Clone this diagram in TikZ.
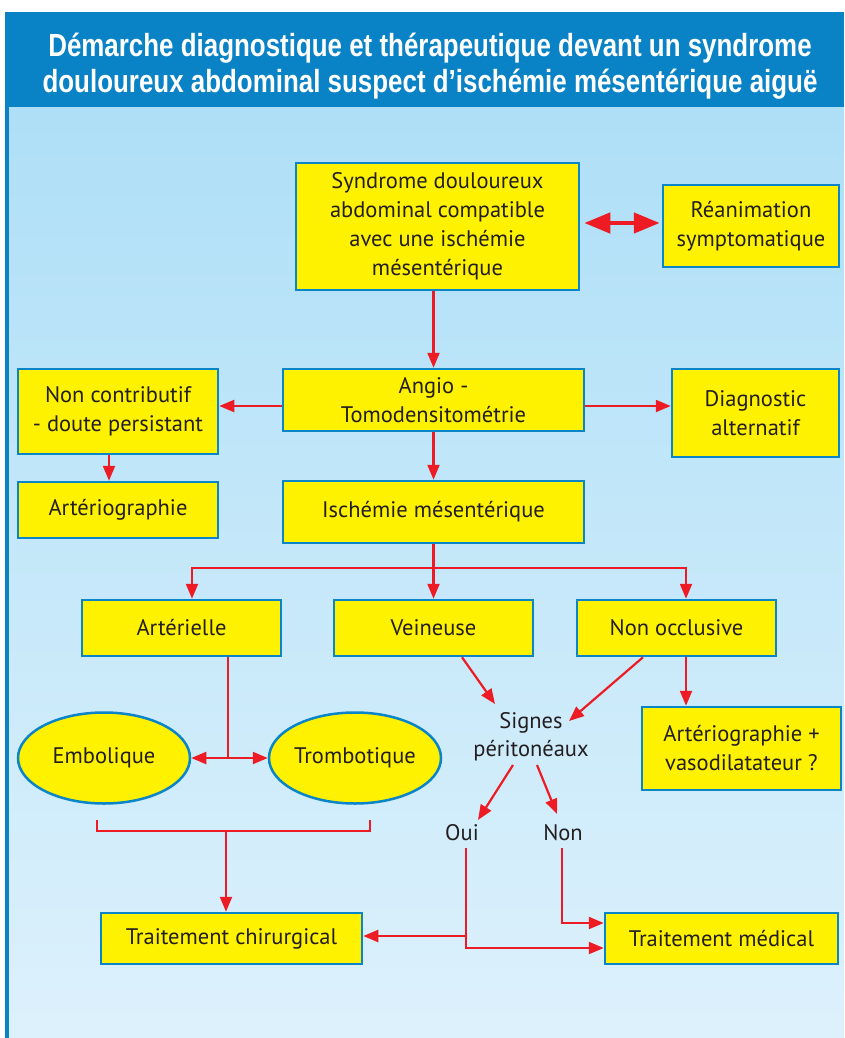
\documentclass[tikz,border=0pt]{standalone}
\usepackage{fontspec}
\setmainfont{PT Sans}
\newfontfamily\titlefont[FakeStretch=0.81]{Liberation Sans}
\usetikzlibrary{arrows.meta,calc,shapes.geometric}
\definecolor{bgtop}{HTML}{AEDFF7}
\definecolor{bgbot}{HTML}{DDF1FC}
\definecolor{band}{HTML}{0A82C6}
\definecolor{boxfill}{HTML}{FFF200}
\definecolor{boxline}{HTML}{0A85C7}
\definecolor{arrred}{HTML}{ED1C24}
\definecolor{txt}{HTML}{231F20}
\begin{document}
\begin{tikzpicture}[x=1pt,y=-1pt,
  box/.style={draw=boxline, line width=2.5pt, fill=boxfill, text=txt, align=center, inner sep=0pt, font=\fontsize{22.5}{29}\selectfont},
  ell/.style={box, ellipse},
  plain/.style={text=txt, align=center, inner sep=0pt, font=\fontsize{22.5}{28}\selectfont},
  titletext/.style={text=white, inner sep=0pt, anchor=base, font=\titlefont\bfseries\fontsize{32}{37}\selectfont},
  conn/.style={draw=arrred, line width=2.2pt},
  arr/.style={conn, -{Triangle[length=15pt,width=12pt]}},
  bigarr/.style={draw=arrred, line width=4.5pt, {Triangle[length=26pt,width=20pt]}-{Triangle[length=26pt,width=20pt]}}
]
\useasboundingbox (0,0) rectangle (844,1038);
\fill[white] (0,0) rectangle (844,1038);
\shade[top color=bgtop, bottom color=bgbot] (5,107) rectangle (844,1038);
\fill[band] (5,12) rectangle (844,107);
\draw[band, line width=3.5pt] (6.75,107) -- (6.75,1038);
\node[titletext] (t1) at (430,57) {Démarche diagnostique et thérapeutique devant un syndrome};
\node[titletext] (t2) at (430,93) {douloureux abdominal suspect d’ischémie mésentérique aiguë};

% boxes
\node[box, minimum width=283pt, minimum height=127pt] (syn) at (437.5,226.5) {Syndrome douloureux\\abdominal compatible\\avec une ischémie\\mésentérique};
\node[box, minimum width=176pt, minimum height=82pt] (rea) at (751,226) {Réanimation\\symptomatique};
\node[box, minimum width=301pt, minimum height=62pt] (angio) at (433.5,400) {Angio -\\Tomodensitométrie};
\node[box, minimum width=200pt, minimum height=85pt] (nonc) at (118,411.5) {Non contributif\\- doute persistant};
\node[box, minimum width=167pt, minimum height=88pt] (diag) at (755.5,413) {Diagnostic\\alternatif};
\node[box, minimum width=200pt, minimum height=56pt] (art1) at (118,510) {Artériographie};
\node[box, minimum width=301pt, minimum height=62pt] (isch) at (433.5,512) {Ischémie mésentérique};
\node[box, minimum width=199pt, minimum height=56pt] (arter) at (181.5,628) {Artérielle};
\node[box, minimum width=199pt, minimum height=56pt] (vein) at (433.5,628) {Veineuse};
\node[box, minimum width=199pt, minimum height=56pt] (nonocc) at (676.5,628) {Non occlusive};
\node[box, minimum width=199pt, minimum height=83pt] (art2) at (741.5,748.5) {Artériographie +\\vasodilatateur ?};
\node[ell, minimum width=172pt, minimum height=91pt] (embo) at (104,758) {Embolique};
\node[ell, minimum width=172pt, minimum height=91pt] (trombo) at (355,758) {Trombotique};
\node[box, minimum width=261pt, minimum height=51pt] (chir) at (231.5,938.5) {Traitement chirurgical};
\node[box, minimum width=233pt, minimum height=51pt] (med) at (721.5,938.5) {Traitement médical};
\node[plain] (signes) at (531,737) {Signes\\péritonéaux};
\node[plain] (oui) at (462,833) {Oui};
\node[plain] (non) at (563,833) {Non};

% connectors
\draw[arr] (syn.south -| angio.north) -- (angio.north);
\draw[bigarr] ($(syn.east)+(4,-3.5)$) -- ($(rea.west)+(-2,-3)$);
\coordinate (aw) at ($(angio.west)+(0,6)$);
\draw[arr] (aw) -- (aw -| nonc.east);
\coordinate (ae) at ($(angio.east)+(0,6)$);
\draw[arr] (ae) -- (ae -| diag.west);
\draw[arr] (angio.south) -- (isch.north);
\coordinate (ns) at ($(nonc.south)+(-9,0)$);
\draw[arr] (ns) -- (ns |- art1.north);
\coordinate (sp) at ($(isch.south)+(0,24)$);
\coordinate (arin) at ($(arter.north)+(10.5,0)$);
\coordinate (noin) at ($(nonocc.north)+(9.5,0)$);
\draw[conn] (isch.south) -- (sp);
\draw[arr] (sp) -| (arin);
\draw[arr] (sp) -- (vein.north);
\draw[arr] (sp) -| (noin);
\coordinate (ars) at ($(arter.south)+(46.5,0)$);
\coordinate (aj) at (ars |- embo.east);
\draw[conn] (ars) -- (aj);
\draw[arr] (aj) -- (embo.east);
\draw[arr] (aj) -- (trombo.west);
\coordinate (bl) at ($(embo.south)+(-7,15)$);
\coordinate (br) at ($(trombo.south)+(15,15)$);
\draw[conn] (bl) -- ++(0,11) -| (br);
\coordinate (bm) at ($(bl)+(129,11)$);
\draw[arr] (bm) -- (bm |- chir.north);
\draw[arr] ($(vein.south)+(28.5,0)$) -- ($(signes.center)+(-36,-33)$);
\draw[arr] ($(nonocc.south)+(-33.5,0)$) -- ($(signes.center)+(38,-16)$);
\coordinate (nos) at ($(nonocc.south)+(9.5,0)$);
\draw[arr] (nos) -- (nos |- art2.north);
\draw[arr] ($(signes.center)+(-18,28)$) -- ($(oui.center)+(16,-13)$);
\draw[arr] ($(signes.center)+(6,28)$) -- ($(non.center)+(-6,-19)$);
\coordinate (os) at ($(oui.center)+(4,15)$);
\coordinate (om) at ($(med.west)+(0,9.5)$);
\draw[arr] (os) |- (om);
\coordinate (oc) at ($(chir.east)+(0,-2.5)$);
\draw[arr] (oc -| os) -- (oc);
\coordinate (nsrc) at ($(non.center)+(-1,15)$);
\coordinate (nm) at ($(med.west)+(0,-15.5)$);
\draw[arr] (nsrc) |- (nm);
\end{tikzpicture}
\end{document}
